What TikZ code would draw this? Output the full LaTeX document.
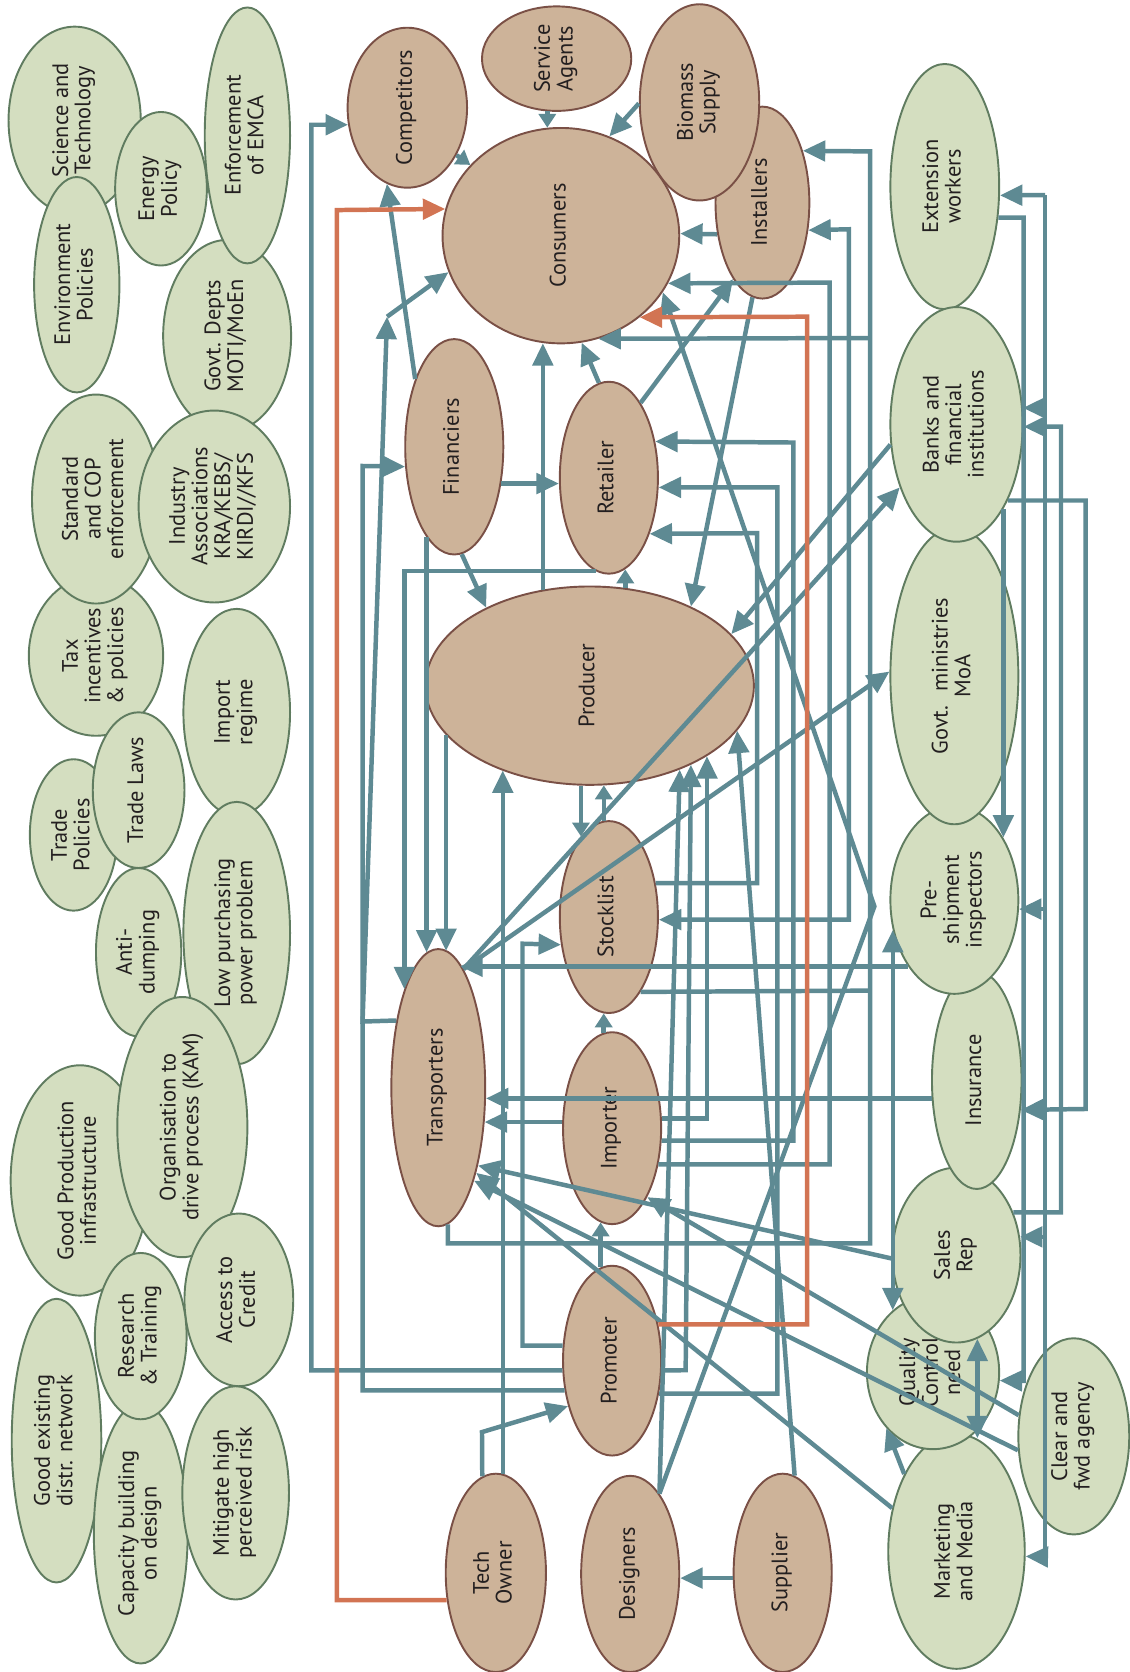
\documentclass[tikz,border=0pt]{standalone}
\usepackage{fontspec}
\setmainfont{PT Sans}
\usepackage{graphicx}
\usetikzlibrary{shapes.geometric}
\usetikzlibrary{arrows.meta}

\definecolor{tealline}{RGB}{94,138,147}
\definecolor{orangeline}{RGB}{210,116,83}
\definecolor{brownfill}{RGB}{205,179,153}
\definecolor{browndraw}{RGB}{122,80,70}
\definecolor{greenfill}{RGB}{212,222,192}
\definecolor{greendraw}{RGB}{96,124,96}
\definecolor{textcol}{RGB}{35,31,32}

\newcommand{\vtext}[1]{\rotatebox{90}{\begin{tabular}{@{}c@{}}#1\end{tabular}}}

\begin{document}
\begin{tikzpicture}[x=0.5pt, y=-0.5pt,
	bubble/.style={ellipse, line width=0.9pt, inner sep=-8pt, text=textcol, font=\fontsize{10.5}{10.5}\selectfont},
	actor/.style={bubble, draw=browndraw, fill=brownfill},
	factor/.style={bubble, draw=greendraw, fill=greenfill},
	link/.style={draw=tealline, line width=2.1pt},
	arr/.style={link, -{Triangle[length=10.5pt,width=9.5pt]}},
	sarr/.style={link, -{Triangle[length=6.5pt,width=8pt]}},
	twoway/.style={link, {Triangle[length=10.5pt,width=9.5pt]}-{Triangle[length=10.5pt,width=9.5pt]}},
	oarr/.style={draw=orangeline, line width=2.1pt, -{Triangle[length=10.5pt,width=9.5pt]}}]

	\useasboundingbox (0,0) rectangle (1059,1568);

	% enabling factors
	\node[factor, minimum width=62pt, minimum height=88pt] (L1) at (70,113) {\vtext{Science and\\Technology}};
	\node[factor, minimum width=43pt, minimum height=72pt] (L2) at (151,177) {\vtext{Energy\\Policy}};
	\node[factor, minimum width=40pt, minimum height=101pt] (L3) at (72,267) {\vtext{Environment\\Policies}};
	\node[factor, minimum width=60pt, minimum height=90pt] (L4) at (213,315) {\vtext{Govt. Depts\\MOTI/MoEn}};
	\node[factor, minimum width=40pt, minimum height=120pt] (L5) at (232,127) {\vtext{Enforcement\\of EMCA}};
	\node[factor, minimum width=63pt, minimum height=75pt] (L6) at (90,615) {\vtext{Tax\\incentives\\\& policies}};
	\node[factor, minimum width=60pt, minimum height=98pt] (L7) at (90,468) {\vtext{Standard\\and COP\\enforcement}};
	\node[factor, minimum width=71pt, minimum height=90pt] (L8) at (201,475) {\vtext{Industry\\Associations\\KRA/KEBS/\\KIRDI//KFS}};
	\node[factor, minimum width=50pt, minimum height=97pt] (L9) at (222,668) {\vtext{Import\\regime}};
	\node[factor, minimum width=50pt, minimum height=123pt] (L10) at (222,875) {\vtext{Low purchasing\\power problem}};
	\node[factor, minimum width=41pt, minimum height=71pt] (L11) at (69,783) {\vtext{Trade\\Policies}};
	\node[factor, minimum width=43pt, minimum height=73pt] (L12) at (130,741) {\vtext{Trade Laws}};
	\node[factor, minimum width=40pt, minimum height=79pt] (L13) at (130,893) {\vtext{Anti-\\dumping}};
	\node[factor, minimum width=65pt, minimum height=108pt] (L14) at (75,1107) {\vtext{Good Production\\infrastructure}};
	\node[factor, minimum width=61pt, minimum height=122pt] (L15) at (171,1057) {\vtext{Organisation to\\drive process (KAM)}};
	\node[factor, minimum width=51pt, minimum height=81pt] (L16) at (224,1219) {\vtext{Access to\\Credit}};
	\node[factor, minimum width=42pt, minimum height=133pt] (L17) at (53,1351) {\vtext{Good existing\\distr. network}};
	\node[factor, minimum width=44pt, minimum height=122pt] (L18) at (132,1438) {\vtext{Capacity building\\on design}};
	\node[factor, minimum width=43pt, minimum height=78pt] (L19) at (132,1253) {\vtext{Research\\\& Training}};
	\node[factor, minimum width=50pt, minimum height=100pt] (L20) at (221,1400) {\vtext{Mitigate high\\perceived risk}};

	% support services
	\node[factor, minimum width=51pt, minimum height=115pt] (Ext) at (886,175) {\vtext{Extension\\workers}};
	\node[factor, minimum width=64pt, minimum height=110pt] (Mkt) at (897,1455) {\vtext{Marketing\\and Media}};
	\node[factor, minimum width=62pt, minimum height=72pt] (Qc) at (875,1287) {\vtext{Quality\\Control\\need}};
	\node[factor, minimum width=60pt, minimum height=82pt] (Sal) at (897,1177) {\vtext{Sales\\Rep}};
	\node[factor, minimum width=42pt, minimum height=102pt] (Isr) at (916,1013) {\vtext{Insurance}};
	\node[factor, minimum width=60pt, minimum height=88pt] (Pre) at (895,844) {\vtext{Pre-\\shipment\\inspectors}};
	\node[factor, minimum width=60pt, minimum height=139pt] (Gmn) at (895,634) {\vtext{Govt.~ ministries\\MoA}};
	\node[factor, minimum width=62pt, minimum height=110pt] (Ban) at (897,398) {\vtext{Banks and\\financial\\institutions}};
	\node[factor, minimum width=52pt, minimum height=92pt] (Clr) at (1007,1347) {\vtext{Clear and\\fwd agency}};

	% market actors
	\node[actor, minimum width=44pt, minimum height=90pt] (Ins) at (715,190) {\vtext{Installers}};
	\node[actor, minimum width=56pt, minimum height=92pt] (Bio) at (656,96) {\vtext{Biomass\\Supply}};
	\node[actor, minimum width=111pt, minimum height=101pt] (Con) at (526,221) {\vtext{Consumers}};
	\node[actor, minimum width=56pt, minimum height=75pt] (Com) at (382,101) {\vtext{Competitors}};
	\node[actor, minimum width=70pt, minimum height=49pt] (Srv) at (522,55) {\vtext{Service\\Agents}};
	\node[actor, minimum width=46pt, minimum height=101pt] (Fin) at (426,419) {\vtext{Financiers}};
	\node[actor, minimum width=46pt, minimum height=90pt] (Ret) at (571,448) {\vtext{Retailer}};
	\node[actor, minimum width=154pt, minimum height=93pt] (Pro) at (553,643) {\vtext{Producer}};
	\node[actor, minimum width=46pt, minimum height=90pt] (Stk) at (571,860) {\vtext{Stocklist}};
	\node[actor, minimum width=44pt, minimum height=130pt] (Tra) at (411,1020) {\vtext{Transporters}};
	\node[actor, minimum width=46pt, minimum height=90pt] (Imp) at (574,1058) {\vtext{Importer}};
	\node[actor, minimum width=46pt, minimum height=89pt] (Prm) at (574,1276) {\vtext{Promoter}};
	\node[actor, minimum width=47pt, minimum height=93pt] (Tec) at (465,1475) {\vtext{Tech\\Owner}};
	\node[actor, minimum width=46pt, minimum height=92pt] (Des) at (591,1476) {\vtext{Designers}};
	\node[actor, minimum width=46pt, minimum height=93pt] (Sup) at (734,1475) {\vtext{Supplier}};

	% around consumers
	\draw[sarr] (Srv.-100) -- (Srv.-100 |- Con.97);
	\draw[sarr] (Com.-44) -- (Con.142);
	\draw[arr] (Bio.181) -- (Con.64);
	\draw[arr] (Ins.215) -- (Con.1);
	\draw[arr] (Fin.120) -- (Com.255);
	\draw[arr] (Ret.96) -- (Con.-79);
	\draw[arr] (Pro.116) -- (Pro.116 |- Con.-99);
	\draw[arr] (Ret.67) -- (Ins.249);
	\draw[arr] (Ins.-96) -- (Pro.38);

	\coordinate (K1) at (363,297);
	\draw[arr] (Tra.122) -- (340,958) -- (K1);
	\draw[arr] (K1) -- (Con.198);

	% outer loops on the left
	\draw[arr] (Prm.191) -| (292,117) -- (Com.196);
	\draw[arr] (Prm.212) -| (340,437) -- (Fin.202);

	% middle column
	\draw[arr] (Fin.-38) -- (Fin.-38 -| Ret.west);
	\draw[arr] (Fin.-86) -- (Pro.143);
	\draw[sarr] (Pro.70) -- (Pro.70 |- Ret.-80);
	\draw[arr] (Ret.262) -| (Tra.109);
	\draw[arr] (Fin.253) -- (Fin.253 |- Tra.95);
	\draw[arr] (Pro.199) -- (Pro.199 |- Tra.86);
	\draw[sarr] (Pro.-95) -- (Pro.-95 |- Stk.109);
	\draw[sarr] (Stk.93) -- (Stk.93 |- Pro.-82);
	\draw[sarr] (Imp.95) -- (Imp.95 |- Stk.-93);
	\draw[sarr] (Prm.97) -- (Prm.97 |- Imp.-97);
	\draw[arr] (Prm.163) -| (490,885) -- (Stk.210);
	\draw[arr] (Imp.173) -- (Imp.173 -| Tra.-37);

	% bottom row
	\draw[arr] (Tec.86) -- (Tec.86 |- Pro.224);
	\draw[arr] (Tec.98) -- (452,1343) -- (Prm.226);
	\draw[arr] (Sup.186) -- (Sup.186 -| Des.east);
	\draw[arr] (Sup.83) -- (Pro.-17);
	\draw[arr] (Des.70) -- (Pro.-43);
	\coordinate (K2) at (820,850);
	\draw[arr] (Des.70) -- (K2) -- (Con.-29);
	\draw[arr] (Prm.-11) -- (643,1285) -- (Pro.-38);
	\draw[arr] (Imp.11) -| (Pro.-31);

	% feeds to retailer and consumers
	\draw[arr] (Stk.36) -| (710,500) -- (Ret.-54);
	\draw[arr] (Prm.-35) -| (729,457) -- (Ret.-11);
	\draw[arr] (Imp.-14) -| (744,415) -- (Ret.38);
	\draw[arr] (Imp.-38) -| (778,265) -- (Con.-24);
	\draw[twoway] (Stk.-3) -| (796,215) -- (Ins.-31);
	\draw[arr] (Tra.-86) |- (816,1166) -- (816,142) -- (Ins.52);
	\draw[arr] (816,317) -- (Con.-70);
	\draw[link] (Stk.-67) -- (816,929);

	% right column to transporters
	\draw[arr] (Pre.235) -- (Pre.235 -| Tra.80);
	\draw[arr] (Isr.202) -- (Isr.202 -| Tra.-13);
	\draw[arr] (Tra.78) -- (Ban.228);
	\draw[arr] (Tra.78) -- (Gmn.176);
	\draw[arr] (Ban.197) -- (Pro.20);
	\draw[arr] (Sal.183) -- (Tra.-63);
	\draw[arr] (Clr.159) -- (Imp.-63);
	\draw[arr] (Clr.194) -- (Tra.-69);
	\draw[arr] (Mkt.146) -- (Tra.-66);
	\draw[arr] (Mkt.124) -- (Qc.230);
	\draw[twoway] (Sal.-76) -- (Sal.-76 |- Mkt.80);
	\draw[twoway] (Pre.206) -- (Pre.206 |- Qc.123);

	% right hand bus lines
	\draw[arr] (Ext.-30) -| (960,1295) -- (Qc.-7);
	\coordinate (K9) at (980,183);
	\coordinate (K10) at (980,1460);
	\draw[link] (K10) -- (K9);
	\draw[arr] (K9) -- (Ext.-9);
	\draw[arr] (K9 |- Ban.14) -- (Ban.14);
	\draw[arr] (K9 |- Pre.-8) -- (Pre.-8);
	\draw[arr] (K9 |- Sal.16) -- (Sal.16);
	\draw[arr] (K10) -- (Mkt.-4);
	\draw[arr] (Sal.37) -| (995,400) -- (Ban.-2);
	\draw[arr] (Ban.-56) -| (1018,1040) -- (Isr.-34);
	\draw[arr] (Ban.-61) -- (Ban.-61 |- Pre.52);

	% orange paths
	\draw[oarr] (Tec.209) -| (316,197) -- (Con.167);
	\draw[oarr] (Prm.38) -| (757,297) -- (Con.-46);

\end{tikzpicture}
\end{document}
